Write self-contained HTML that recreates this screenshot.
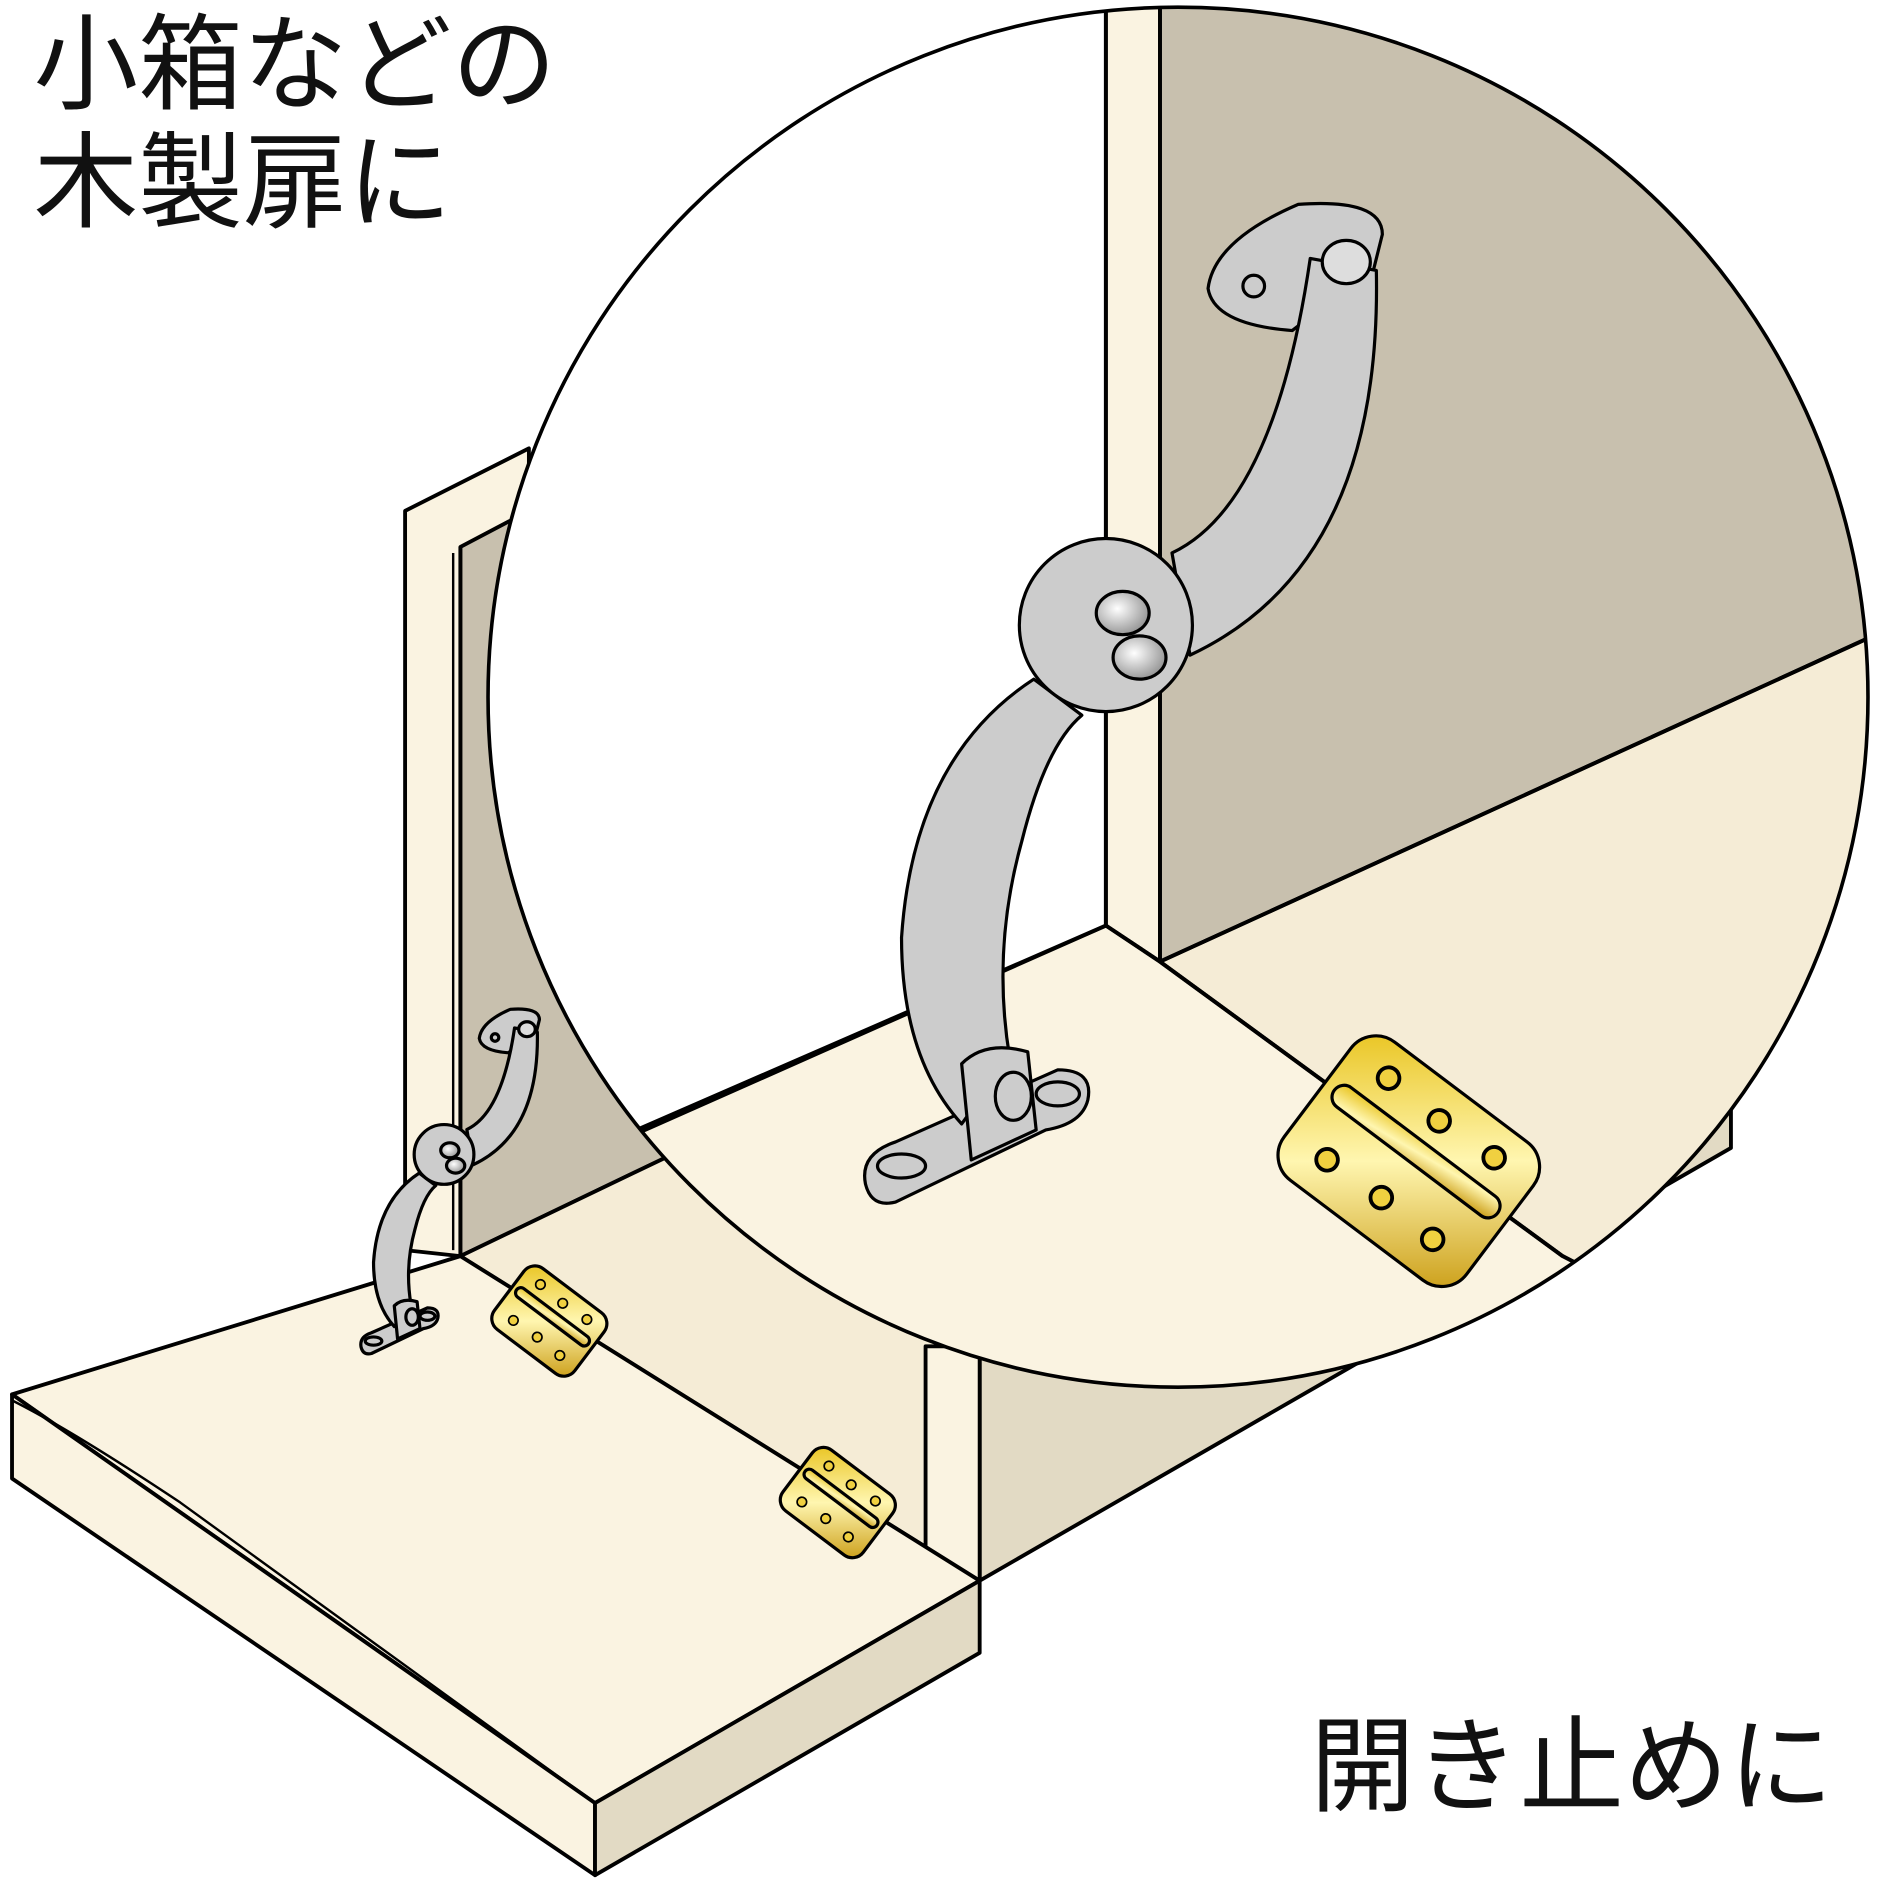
<!DOCTYPE html>
<html><head><meta charset="utf-8"><style>
html,body{margin:0;padding:0;background:#fff}
svg{display:block}
text{font-family:"Liberation Sans","Noto Sans CJK JP",sans-serif;fill:#111}
</style></head><body>
<svg width="1880" height="1880" viewBox="0 0 1564 1564" xmlns="http://www.w3.org/2000/svg">
<defs>
<linearGradient id="gold" x1="0" y1="0" x2="1" y2="1">
<stop offset="0" stop-color="#e8c21a"/><stop offset="0.5" stop-color="#fff6b0"/><stop offset="1" stop-color="#c99a10"/>
</linearGradient>
<radialGradient id="pin" cx="0.4" cy="0.4" r="0.6"><stop offset="0" stop-color="#fff"/><stop offset="1" stop-color="#999"/></radialGradient>
<clipPath id="cc"><circle cx="980" cy="580" r="574"/></clipPath>
<g id="stay">
<path d="M720,985 Q715,960 745,950 L880,890 Q910,890 905,915 Q900,935 870,940 L745,1000 Q725,1005 720,985 Z" fill="#ccc" vector-effect="non-scaling-stroke"/>
<ellipse cx="750" cy="970" rx="20" ry="10" fill="#ccc" vector-effect="non-scaling-stroke"/>
<ellipse cx="880" cy="910" rx="18" ry="10" fill="#ccc" vector-effect="non-scaling-stroke"/>
<path d="M860,565 Q760,630 750,780 Q750,880 800,935 L840,880 Q825,790 850,700 Q870,620 900,595 Z" fill="#ccc" vector-effect="non-scaling-stroke"/>
<path d="M800,885 Q820,865 855,875 L862,940 L808,965 Z" fill="#ccc" vector-effect="non-scaling-stroke"/>
<ellipse cx="843" cy="912" rx="15" ry="20" fill="#ccc" vector-effect="non-scaling-stroke"/>
<path d="M1005,240 Q1010,200 1080,170 Q1150,165 1150,195 L1140,235 Q1120,240 1075,275 Q1010,270 1005,240 Z" fill="#ccc" vector-effect="non-scaling-stroke"/>
<circle cx="1043" cy="238" r="9" fill="#ccc" vector-effect="non-scaling-stroke"/>
<path d="M975,460 Q1060,420 1090,215 L1145,225 Q1150,470 990,545 Z" fill="#ccc" vector-effect="non-scaling-stroke"/>
<circle cx="920" cy="520" r="72" fill="#ccc" vector-effect="non-scaling-stroke"/>
<ellipse cx="1120" cy="218" rx="20" ry="18" fill="#ddd" vector-effect="non-scaling-stroke"/>
<ellipse cx="934" cy="510" rx="22" ry="18" fill="url(#pin)" vector-effect="non-scaling-stroke"/>
<ellipse cx="948" cy="547" rx="22" ry="18" fill="url(#pin)" vector-effect="non-scaling-stroke"/>
</g>
<g id="hinge">
<rect x="-95" y="-72" width="190" height="144" rx="26" fill="url(#gold)" vector-effect="non-scaling-stroke"/>
<rect x="-85" y="-20" width="170" height="20" rx="10" fill="url(#gold)" vector-effect="non-scaling-stroke"/>
<g fill="#f0d040" vector-effect="non-scaling-stroke"><circle cx="-55" cy="-45" r="9"/><circle cx="0" cy="-42" r="9"/><circle cx="55" cy="-45" r="9"/><circle cx="-55" cy="40" r="9"/><circle cx="0" cy="38" r="9"/><circle cx="55" cy="40" r="9"/></g>
</g>
</defs>
<g stroke="#000" stroke-width="3.2" stroke-linejoin="round">
<polygon points="815,1120 1440,760 1440,955 815,1315" fill="#e2dac4"/>
<polygon points="337,425 440,373 440,1000 383,1045 337,1040" fill="#faf3e1"/>
<polygon points="383,455 440,425 560,960 383,1045" fill="#c8c0ae"/>
<line x1="383" y1="455" x2="383" y2="1045"/>
<line x1="377" y1="460" x2="377" y2="1040" stroke-width="2"/>
<polygon points="383,1045 560,960 815,1120 815,1315" fill="#f5ecd6"/>
<polygon points="770,1120 815,1120 815,1315 770,1290" fill="#faf3e1"/>
<polygon points="10,1160 383,1045 815,1315 495,1500" fill="#faf3e1"/>
<polygon points="10,1160 495,1500 495,1560 10,1230" fill="#faf3e1"/>
<path d="M10,1165 Q60,1190 150,1250 L495,1500" fill="none" stroke-width="2"/>
<polygon points="495,1500 815,1315 815,1375 495,1560" fill="#e2dac4"/>
<line x1="383" y1="1045" x2="815" y2="1315" stroke-width="2"/>
<use href="#stay" transform="translate(52,781) scale(0.345)"/>
<use href="#hinge" transform="translate(457,1099) rotate(37) scale(0.44)"/>
<use href="#hinge" transform="translate(697,1250) rotate(37) scale(0.44)"/>
<circle cx="980" cy="580" r="574" fill="#fff" stroke="none"/>
<g clip-path="url(#cc)">
<polygon points="920,0 1600,0 1600,510 965,800 920,770" fill="#c8c0ae"/>
<polygon points="920,0 965,0 965,800 920,770" fill="#faf3e1"/>
<polygon points="965,800 1600,510 1600,1200 1300,1045" fill="#f5ecd6"/>
<polygon points="920,770 965,800 1300,1045 1600,1200 300,1200 300,1040" fill="#faf3e1"/>
<line x1="920" y1="0" x2="920" y2="770"/><line x1="965" y1="0" x2="965" y2="800"/>
<line x1="920" y1="770" x2="300" y2="1045"/><line x1="920" y1="770" x2="965" y2="800"/>
<line x1="965" y1="800" x2="1600" y2="510"/><line x1="965" y1="800" x2="1300" y2="1045"/>
</g>
<circle cx="980" cy="580" r="574" fill="none" stroke-width="3"/>
<use href="#stay"/>
<use href="#hinge" transform="translate(1172,966) rotate(37)"/>
</g>
<text x="28" y="84" font-size="87">小箱などの</text>
<text x="28" y="182" font-size="87">木製扉に</text>
<text x="1090" y="1500" font-size="87">開き止めに</text>
</svg>
</body></html>
